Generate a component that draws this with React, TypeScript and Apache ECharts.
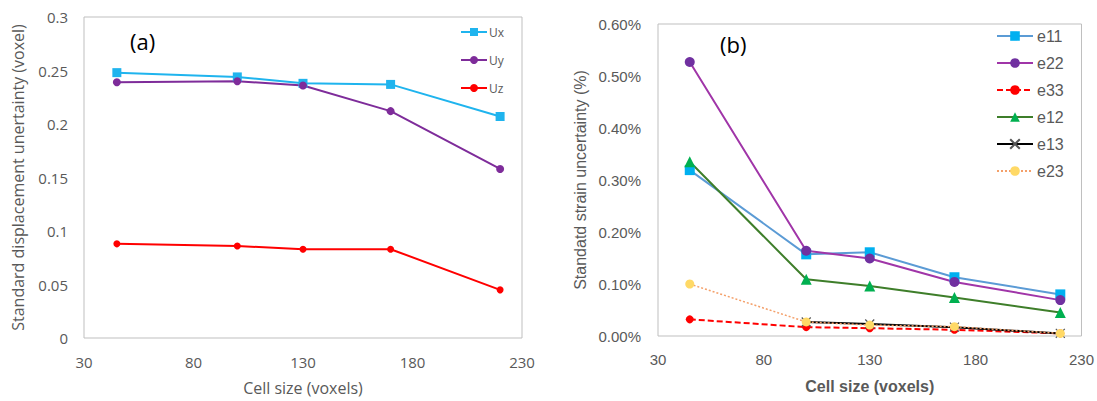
import React, { useEffect, useRef } from "react";
import * as echarts from "echarts";

const cellSizes = [45, 100, 130, 170, 220];
const xTicks = [30, 80, 130, 180, 230];

const ux = [0.248, 0.244, 0.238, 0.237, 0.207];
const uy = [0.239, 0.24, 0.236, 0.212, 0.158];
const uz = [0.088, 0.086, 0.083, 0.083, 0.045];

const e11 = [0.319, 0.157, 0.161, 0.113, 0.08];
const e22 = [0.527, 0.164, 0.149, 0.104, 0.069];
const e33 = [0.032, 0.017, 0.015, 0.012, 0.005];
const e12 = [0.335, 0.109, 0.096, 0.074, 0.045];
const e13 = [null, 0.027, 0.023, 0.017, 0.005];
const e23 = [0.1, 0.027, 0.021, 0.018, 0.005];

const pairs = (ys: (number | null)[]) => cellSizes.map((x, i) => [x, ys[i]]).filter((p) => p[1] !== null);

const FONT_A = "'Open Sans', 'Noto Sans', sans-serif";
const FONT_B = "'Liberation Sans', Arial, sans-serif";
const GREY = "#595959";
const BORDER = "#BFBFBF";

export default function App() {
  const ref = useRef<HTMLDivElement>(null);
  useEffect(() => {
    const chart = echarts.init(ref.current!, null, { renderer: "svg" });
    const xAxisCommon = (gridIndex: number, font: string, nameBold: boolean) => ({
      type: "value",
      gridIndex,
      min: xTicks[0],
      max: xTicks[xTicks.length - 1],
      interval: 50,
      axisLine: { show: false },
      axisTick: { show: false },
      splitLine: { show: false },
      axisLabel: { color: GREY, fontSize: 15, fontFamily: font, margin: 16 },
      name: "Cell size (voxels)",
      nameLocation: "middle",
      nameGap: 42,
      nameTextStyle: {
        color: GREY,
        fontSize: 16,
        fontFamily: font,
        fontWeight: nameBold ? "bold" : "normal",
      },
    });
    const option: any = {
      animation: false,
      backgroundColor: "#ffffff",
      grid: [
        { left: 84, top: 17, width: 438, height: 324, show: true, borderColor: BORDER, borderWidth: 1, backgroundColor: "transparent" },
        { left: 658, top: 24, width: 424, height: 312, show: true, borderColor: BORDER, borderWidth: 1, backgroundColor: "transparent" },
      ],
      xAxis: [xAxisCommon(0, FONT_A, false), xAxisCommon(1, FONT_B, true)],
      yAxis: [
        {
          type: "value",
          gridIndex: 0,
          min: 0,
          max: 0.3,
          interval: 0.05,
          axisLine: { show: false },
          axisTick: { show: false },
          splitLine: { show: false },
          axisLabel: { color: GREY, fontSize: 15, fontFamily: FONT_A, margin: 16 },
          name: "Standard displacement unertainty (voxel)",
          nameLocation: "middle",
          nameGap: 58,
          nameTextStyle: { color: GREY, fontSize: 16, fontFamily: FONT_A },
        },
        {
          type: "value",
          gridIndex: 1,
          min: 0,
          max: 0.6,
          interval: 0.1,
          axisLine: { show: false },
          axisTick: { show: false },
          splitLine: { show: false },
          axisLabel: {
            color: GREY,
            fontSize: 15,
            fontFamily: FONT_B,
            margin: 17,
            formatter: (v: number) => v.toFixed(2) + "%",
          },
          name: "Standatd strain uncertainty (%)",
          nameLocation: "middle",
          nameGap: 70,
          nameTextStyle: { color: GREY, fontSize: 16, fontFamily: FONT_B },
        },
      ],
      legend: [
        {
          data: ["Ux", "Uy", "Uz"],
          orient: "vertical",
          left: 455,
          top: 21,
          itemWidth: 26,
          itemHeight: 10,
          itemGap: 16,
          textStyle: { color: GREY, fontSize: 12, fontFamily: FONT_A, padding: [0, 0, 0, -3] },
        },
        {
          data: ["e11", "e22", "e33", "e12", "e13", "e23"],
          orient: "vertical",
          left: 991,
          top: 23,
          itemWidth: 36,
          itemHeight: 12,
          itemGap: 11,
          textStyle: { color: GREY, fontSize: 16, fontFamily: FONT_B, padding: [0, 0, 0, -1] },
        },
      ],
      graphic: [
        { type: "text", left: 130, top: 30, style: { text: "(a)", fontSize: 22, fill: "#000", fontFamily: FONT_A } },
        { type: "text", left: 720, top: 33, style: { text: "(b)", fontSize: 22, fill: "#000", fontFamily: FONT_A } },
      ],
      series: [
        {
          name: "Ux", type: "line", xAxisIndex: 0, yAxisIndex: 0, data: pairs(ux),
          symbol: "rect", symbolSize: 9, lineStyle: { color: "#1FB4EE", width: 2 }, itemStyle: { color: "#1FB4EE" },
        },
        {
          name: "Uy", type: "line", xAxisIndex: 0, yAxisIndex: 0, data: pairs(uy),
          symbol: "circle", symbolSize: 8, lineStyle: { color: "#7E2C9A", width: 2 }, itemStyle: { color: "#7E2C9A" },
        },
        {
          name: "Uz", type: "line", xAxisIndex: 0, yAxisIndex: 0, data: pairs(uz),
          symbol: "circle", symbolSize: 7, lineStyle: { color: "#FF0000", width: 2 }, itemStyle: { color: "#FF0000" },
        },
        {
          name: "e11", type: "line", xAxisIndex: 1, yAxisIndex: 1, data: pairs(e11),
          symbol: "rect", symbolSize: 10, lineStyle: { color: "#5B9BD5", width: 2 }, itemStyle: { color: "#00B0F0" },
        },
        {
          name: "e22", type: "line", xAxisIndex: 1, yAxisIndex: 1, data: pairs(e22),
          symbol: "circle", symbolSize: 10, lineStyle: { color: "#A035A8", width: 2 }, itemStyle: { color: "#7030A0" },
        },
        {
          name: "e33", type: "line", xAxisIndex: 1, yAxisIndex: 1, data: pairs(e33),
          symbol: "circle", symbolSize: 8, lineStyle: { color: "#FF0000", width: 2, type: [6, 3] }, itemStyle: { color: "#FF0000" },
        },
        {
          name: "e12", type: "line", xAxisIndex: 1, yAxisIndex: 1, data: pairs(e12),
          symbol: "triangle", symbolSize: 11, lineStyle: { color: "#3E7E2A", width: 2 }, itemStyle: { color: "#00B050" },
        },
        {
          name: "e13", type: "line", xAxisIndex: 1, yAxisIndex: 1, data: pairs(e13),
          symbol: "path://M0,0L10,10M10,0L0,10", symbolSize: 9,
          lineStyle: { color: "#000000", width: 2 },
          itemStyle: { color: "none", borderColor: "#555555", borderWidth: 1.2 },
        },
        {
          name: "e23", type: "line", xAxisIndex: 1, yAxisIndex: 1, data: pairs(e23),
          symbol: "circle", symbolSize: 9, lineStyle: { color: "#F4A06A", width: 1.5, type: [2, 2] }, itemStyle: { color: "#FFD966" },
        },
      ],
    };
    chart.setOption(option);
    return () => chart.dispose();
  }, []);
  return (
    <div
      ref={ref}
      style={{ position: "fixed", left: 0, top: 0, width: 1097, height: 401, background: "#fff" }}
    />
  );
}
